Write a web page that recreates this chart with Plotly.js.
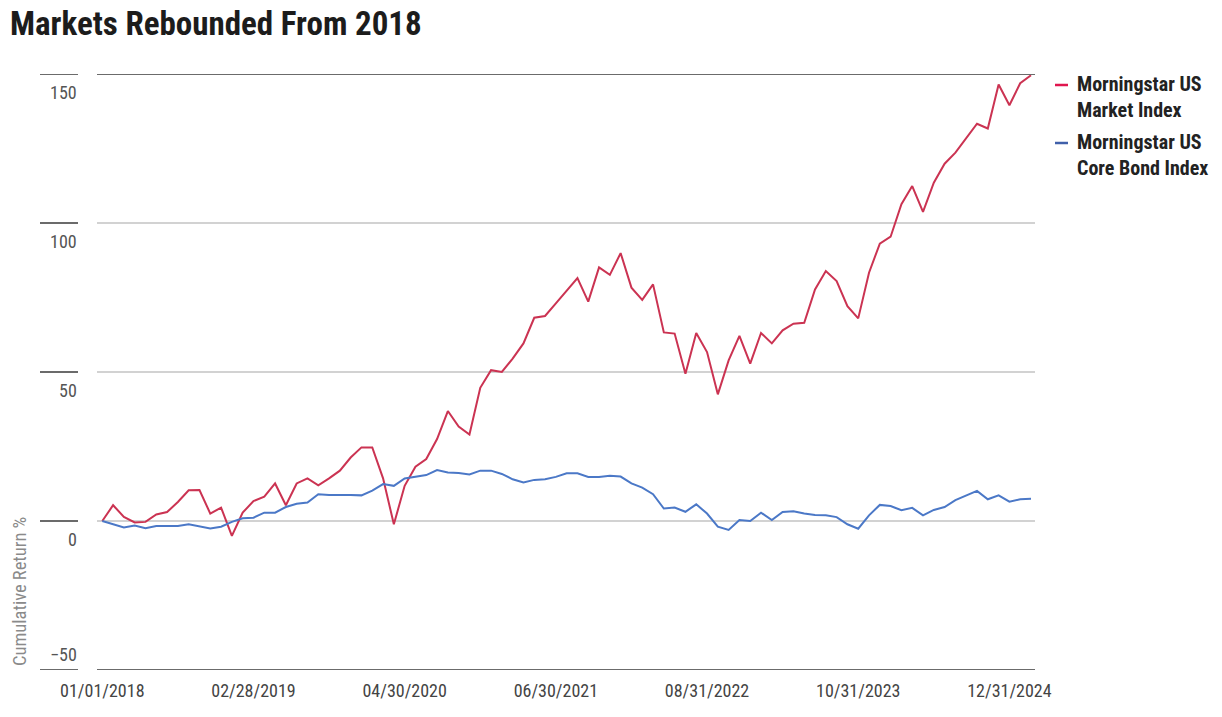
<!DOCTYPE html>
<html>
<head>
<meta charset="utf-8">
<script src="https://cdn.plot.ly/plotly-3.0.1.min.js"></script>
<style>
  html, body { margin: 0; padding: 0; background: #fff; }
  #chart { width: 1222px; height: 717px; }
</style>
</head>
<body>
<div id="chart"></div>
<script>
// ---- Data ----
const startLabel = "01/01/2018";
const seriesNames = ["Morningstar US<br>Market Index", "Morningstar US<br>Core Bond Index"];

const marketIndex = [
  0, 5.3, 1.4, -0.5, -0.3, 2.2, 3.0, 6.4, 10.3, 10.4, 2.5, 4.5, -5.0,
  2.8, 6.7, 8.2, 12.6, 5.3, 12.6, 14.3, 12.0, 14.3, 16.9, 21.3, 24.7,
  24.7, 14.3, -1.1, 11.8, 18.2, 20.8, 27.5, 36.9, 31.7, 29.0, 44.7, 50.6,
  50.0, 54.5, 59.6, 68.2, 68.8, 73.0, 77.3, 81.5, 73.6, 85.1, 82.6, 89.9,
  78.3, 74.2, 79.4, 63.3, 62.9, 49.4, 63.1, 56.7, 42.5, 53.9, 62.1, 52.8,
  63.1, 59.6, 64.0, 66.2, 66.5, 77.7, 83.9, 80.5, 72.1, 68.0, 83.3, 93.1,
  95.4, 106.3, 112.4, 103.7, 113.5, 119.9, 123.6, 128.6, 133.3, 131.7, 146.5, 139.5,
  146.9, 149.6
];

const coreBondIndex = [
  0, -1.1, -2.2, -1.5, -2.4, -1.7, -1.7, -1.7, -1.1, -1.7, -2.5, -1.9, -0.3,
  0.9, 1.1, 2.8, 2.8, 4.7, 5.8, 6.2, 9.0, 8.7, 8.8, 8.7, 8.6,
  10.2, 12.4, 11.8, 14.3, 14.8, 15.4, 17.1, 16.3, 16.1, 15.6, 16.9, 16.9,
  15.8, 14.0, 12.9, 13.8, 14.0, 14.8, 16.0, 16.0, 14.8, 14.8, 15.2, 14.9,
  12.6, 11.2, 9.0, 4.2, 4.5, 3.1, 5.6, 2.5, -1.9, -3.0, 0.3, 0.0,
  2.8, 0.3, 3.0, 3.3, 2.5, 2.0, 1.9, 1.3, -1.1, -2.6, 1.9, 5.4,
  5.0, 3.6, 4.4, 1.9, 3.7, 4.7, 7.0, 8.6, 10.1, 7.3, 8.6, 6.5,
  7.3, 7.5
];

const xTickLabels = ["01/01/2018", "02/28/2019", "04/30/2020", "06/30/2021", "08/31/2022", "10/31/2023", "12/31/2024"];
const yTickValues = [150, 100, 50, 0, -50];
const yTickLabels = ["150", "100", "50", "0", "\u221250"];

// Category labels: the start date, then each month-end
function pad(n) { return (n < 10 ? "0" : "") + n; }
const dates = [startLabel];
for (let i = 1; i < marketIndex.length; i++) {
  const y = 2018 + Math.floor((i - 1) / 12);
  const m = (i - 1) % 12 + 1;
  const last = new Date(Date.UTC(y, m, 0)).getUTCDate();
  dates.push(pad(m) + "/" + pad(last) + "/" + y);
}

// ---- Styling ----
const FONT = "Roboto Condensed, Roboto, Liberation Sans, sans-serif";
const RED = "#CB3352";
const BLUE = "#4B78C7";
const L = 97, R = 187, T = 74, B = 47, W = 1222, H = 717;
const PW = W - L - R;
function px2paper(px) { return (px - L) / PW; }
function pxY(py) { return (H - B - py) / (H - T - B); }

const traces = [
  { x: dates, y: marketIndex, type: "scatter", mode: "lines", name: seriesNames[0],
    line: { color: RED, width: 2 }, hoverinfo: "x+y" },
  { x: dates, y: coreBondIndex, type: "scatter", mode: "lines", name: seriesNames[1],
    line: { color: BLUE, width: 2 }, hoverinfo: "x+y" }
];

const shapes = [];
const annotations = [];

// y tick marks + labels (detached, to the left of the plot)
yTickValues.forEach((v, i) => {
  shapes.push({ type: "line", xref: "paper", yref: "y", x0: px2paper(40), x1: px2paper(78), y0: v, y1: v,
    line: { color: "#6b6b6b", width: 2 } });
  annotations.push({ xref: "paper", yref: "y", x: px2paper(79), y: v, xanchor: "right", yanchor: "middle",
    yshift: v === -50 ? 16 : -18, showarrow: false, text: yTickLabels[i],
    font: { family: FONT, size: 18, color: "#555" } });
});

// top and bottom border lines (darker)
[150, -50].forEach(v => {
  shapes.push({ type: "line", xref: "paper", yref: "y", x0: 0, x1: 1, y0: v, y1: v,
    line: { color: "#6b6b6b", width: 2 } });
});

// y axis title
annotations.push({ xref: "paper", yref: "paper", x: px2paper(20), y: pxY(592),
  xanchor: "center", yanchor: "middle", textangle: -90, showarrow: false,
  text: "Cumulative Return %", font: { family: FONT, size: 18.5, color: "#8a8a8a" } });

// legend (manual)
const legendItems = [
  { color: "#E0164F", y: 85 },
  { color: "#4060AA", y: 143 }
];
legendItems.forEach((it, k) => {
  shapes.push({ type: "line", xref: "paper", yref: "paper", x0: px2paper(1055), x1: px2paper(1068),
    y0: pxY(it.y), y1: pxY(it.y), line: { color: it.color, width: 2.5 } });
  annotations.push({ xref: "paper", yref: "paper", x: px2paper(1075), y: pxY(it.y - 15), xanchor: "left", yanchor: "top",
    align: "left", showarrow: false, text: "<b>" + seriesNames[k] + "</b>",
    font: { family: FONT, size: 20, color: "#222" } });
});

const layout = {
  width: W, height: H,
  margin: { l: L, r: R, t: T, b: B, pad: 0 },
  paper_bgcolor: "#fff", plot_bgcolor: "#fff",
  showlegend: false,
  title: { text: "<b>Markets Rebounded From 2018</b>", xref: "container", yref: "container",
    x: 10 / W, xanchor: "left", y: 1 - 23 / H, yanchor: "middle",
    font: { family: FONT, size: 33, color: "#1c1c1c" } },
  xaxis: {
    type: "category",
    range: [-0.49, dates.length - 1 + 0.37],
    tickvals: xTickLabels, ticktext: xTickLabels,
    showgrid: false, zeroline: false, showline: false, ticks: "",
    ticklabelstandoff: 8,
    tickfont: { family: FONT, size: 18, color: "#444" }
  },
  yaxis: {
    range: [-50, 150],
    tickvals: yTickValues, showticklabels: false,
    showgrid: true, gridcolor: "#d2d2d2", gridwidth: 1.5,
    zeroline: false, showline: false, ticks: ""
  },
  shapes: shapes,
  annotations: annotations
};

Plotly.newPlot("chart", traces, layout, { displayModeBar: false, staticPlot: true });
</script>
</body>
</html>
